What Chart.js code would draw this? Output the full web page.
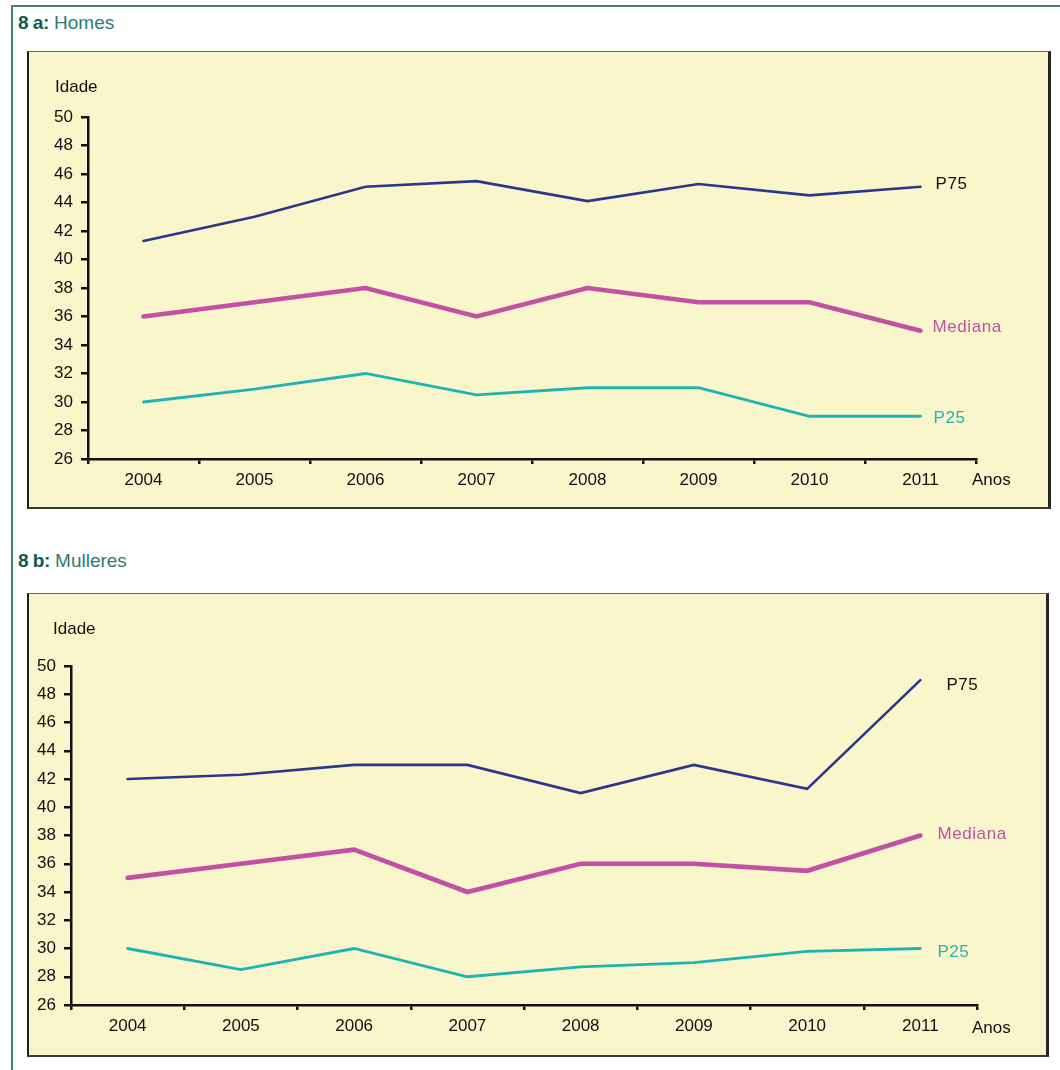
<!DOCTYPE html>
<html>
<head>
<meta charset="utf-8">
<script src="https://cdn.jsdelivr.net/npm/chart.js"></script>
<style>
  body { margin: 0; background: #fff; width: 1060px; height: 1070px; position: relative; overflow: hidden; font-family: "Liberation Sans", Arial, sans-serif; }
  .frame { position: absolute; left: 11px; top: 5px; width: 1100px; height: 1100px; border-top: 2px solid #3f807a; border-left: 2px solid #3f807a; }
  .title { position: absolute; left: 18px; font-size: 19px; color: #2e7b75; line-height: 20px; }
  .title b { color: #0d5a54; letter-spacing: -0.5px; }
  .panel { position: absolute; left: 27px; background: #faf6cb; border-top: 1px solid #6a6a62; border-left: 2px solid #1e1e1e; border-right: 3px solid #262626; border-bottom: 2px solid #3a3a3a; }
  .panel canvas { display: block; }
</style>
</head>
<body>
<div class="frame"></div>
<div class="title" style="top:13px"><b>8 a:</b> Homes</div>
<div class="title" style="top:551px"><b>8 b:</b> Mulleres</div>
<div class="panel" style="top:51px; width:1019px; height:455px"><canvas id="chartA" width="1019" height="455"></canvas></div>
<div class="panel" style="top:593px; width:1017px; height:461px"><canvas id="chartB" width="1017" height="461"></canvas></div>

<script>
const years = ["2004", "2005", "2006", "2007", "2008", "2009", "2010", "2011"];
const yTicks = [26, 28, 30, 32, 34, 36, 38, 40, 42, 44, 46, 48, 50];

// 8 a: Homes
const homesP75 = [41.3, 43.0, 45.1, 45.5, 44.1, 45.3, 44.5, 45.1];
const homesMediana = [36, 37, 38, 36, 38, 37, 37, 35];
const homesP25 = [30, 30.9, 32, 30.5, 31, 31, 29, 29];

// 8 b: Mulleres
const mulleresP75 = [42, 42.3, 43, 43, 41, 43, 41.3, 49];
const mulleresMediana = [35, 36, 37, 34, 36, 36, 35.5, 38];
const mulleresP25 = [30, 28.5, 30, 28, 28.7, 29, 29.8, 30];

const seriesNames = ["P75", "Mediana", "P25"];
const seriesColors = ["#2a388c", "#c151a2", "#1fb4b2"];
const labelColors = ["#111111", "#c151a2", "#1fb4b2"];
const seriesWidths = [2.6, 4.6, 2.8];

const FONT = "'Liberation Sans', Arial, sans-serif";

// text at the end of each line + axis names
const annotations = {
  id: "annotations",
  afterDatasetsDraw(chart, args, opts) {
    const ctx = chart.ctx;
    ctx.save();
    ctx.font = "17px " + FONT;
    ctx.letterSpacing = "0.6px";
    ctx.textAlign = "left";
    ctx.textBaseline = "middle";
    chart.data.datasets.forEach((ds, i) => {
      const meta = chart.getDatasetMeta(i);
      const last = meta.data[meta.data.length - 1];
      ctx.fillStyle = labelColors[i];
      ctx.fillText(ds.label, last.x + opts.endOffsets[i][0], last.y + opts.endOffsets[i][1]);
    });
    ctx.letterSpacing = "0px";
    ctx.fillStyle = "#111";
    const area = chart.chartArea;
    ctx.fillText("Idade", area.left + opts.idade[0], area.top + opts.idade[1]);
    ctx.fillText("Anos", area.right + opts.anos[0], area.bottom + opts.anos[1]);
    ctx.restore();
  },
};

const makeChart = (id, values, style) => {
  const datasets = values.map((v, i) => ({
    label: seriesNames[i],
    data: v,
    borderColor: seriesColors[i],
    borderWidth: seriesWidths[i],
    pointRadius: 0,
    tension: 0,
    fill: false,
    borderCapStyle: "round",
  }));

  return new Chart(document.getElementById(id), {
    type: "line",
    data: { labels: years, datasets: datasets },
    plugins: [annotations],
    options: {
      responsive: false,
      animation: false,
      layout: { padding: { left: 0, top: style.top, right: style.right, bottom: 0 } },
      plugins: {
        legend: { display: false },
        tooltip: { enabled: false },
        annotations: style,
      },
      scales: {
        x: {
          type: "category",
          offset: true,
          afterFit: (s) => { s.height = style.xHeight; },
          grid: { drawOnChartArea: false, offset: true, tickLength: 5, color: "#111", lineWidth: 2.5 },
          border: { display: true, color: "#111", width: 2.5 },
          ticks: { color: "#111", padding: 6, font: { family: FONT, size: 17 }, maxRotation: 0 },
        },
        y: {
          min: 26,
          max: 50,
          afterFit: (s) => { s.width = style.yWidth; },
          afterBuildTicks: (s) => { s.ticks = yTicks.map((v) => ({ value: v })); },
          grid: { drawOnChartArea: false, tickLength: 7, color: "#111", lineWidth: 2.5 },
          border: { display: true, color: "#111", width: 2.5 },
          ticks: { color: "#111", padding: 8, font: { family: FONT, size: 17 } },
        },
      },
    },
  });
};

makeChart("chartA", [homesP75, homesMediana, homesP25], {
  top: 65, right: 72, xHeight: 48, yWidth: 59,
  endOffsets: [[15, -3], [12, -3], [13, 2]],
  idade: [-33, -30],
  anos: [-4, 21],
});

makeChart("chartB", [mulleresP75, mulleresMediana, mulleresP25], {
  top: 72, right: 69, xHeight: 50, yWidth: 42,
  endOffsets: [[26, 5], [17, -1], [17, 4]],
  idade: [-18, -37],
  anos: [-5, 23],
});
</script>
</body>
</html>
